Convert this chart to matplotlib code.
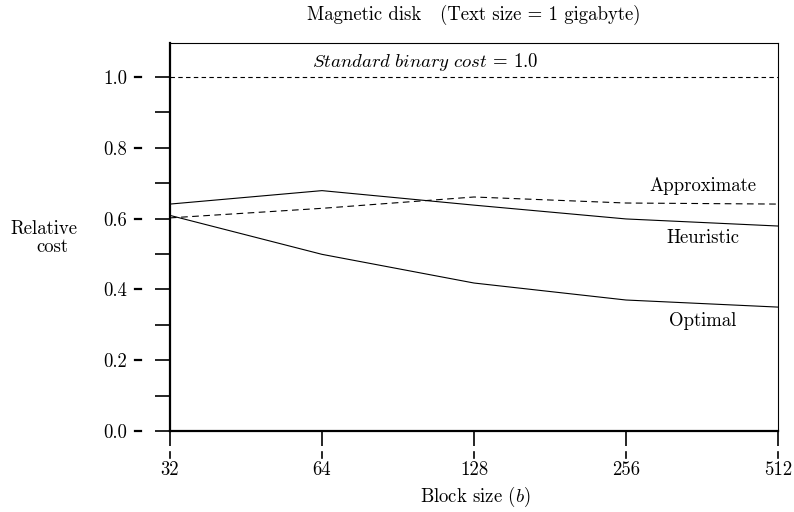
import numpy as np
import matplotlib
matplotlib.use("Agg")
import matplotlib.pyplot as plt
from matplotlib.ticker import FixedLocator, FixedFormatter, NullFormatter

plt.rcParams['font.family'] = ['cmr10', 'DejaVu Serif']
plt.rcParams['mathtext.fontset'] = 'cm'
plt.rcParams['axes.formatter.use_mathtext'] = True

# data
block_sizes = [32, 64, 128, 256, 512]
heuristic = [0.641, 0.679, 0.638, 0.599, 0.579]
approximate = [0.602, 0.629, 0.661, 0.644, 0.641]
optimal = [0.609, 0.499, 0.418, 0.370, 0.350]
standard_cost = 1.0

y_major = [0.0, 0.2, 0.4, 0.6, 0.8, 1.0]
y_minor = [0.1, 0.3, 0.5, 0.7, 0.9]
x_labels = ['32', '64', '128', '256', '512']

fs = 13.5

fig = plt.figure(figsize=(7.94, 5.12), dpi=100)
ax = fig.add_axes([170 / 794, 81 / 512, 608 / 794, 388 / 512])

ax.plot(block_sizes, heuristic, color='black', lw=0.8)
ax.plot(block_sizes, approximate, color='black', lw=0.8, dashes=(6, 4))
ax.plot(block_sizes, optimal, color='black', lw=0.8)
ax.axhline(standard_cost, color='black', lw=0.8, dashes=(4, 3))

ax.set_xscale('log', base=2)
ax.set_xlim(32, 512)
ax.set_ylim(0, 1.096)

ax.xaxis.set_major_locator(FixedLocator(block_sizes))
ax.xaxis.set_major_formatter(FixedFormatter(x_labels))
ax.xaxis.set_minor_locator(FixedLocator([]))
ax.xaxis.set_minor_formatter(NullFormatter())
ax.yaxis.set_major_locator(FixedLocator(y_major))
ax.yaxis.set_major_formatter(FixedFormatter([f"{v:.1f}" for v in y_major]))
ax.yaxis.set_minor_locator(FixedLocator(y_minor))

ax.tick_params(axis='y', which='both', direction='out', length=11, width=1.2,
               pad=20, labelsize=fs)
ax.tick_params(axis='x', which='major', direction='out', length=11, width=1.2,
               pad=11, labelsize=fs)

for side in ['left', 'bottom']:
    ax.spines[side].set_linewidth(1.6)
for side in ['top', 'right']:
    ax.spines[side].set_linewidth(0.8)

# little dashes between the ticks and their labels
xt = ax.get_xaxis_transform()
for b in block_sizes:
    ax.plot([b, b], [-21 / 388, -27 / 388], transform=xt, color='black',
            lw=1.2, clip_on=False)
yt = ax.get_yaxis_transform()
for v in y_major:
    ax.plot([-35 / 608, -29 / 608], [v, v], transform=yt, color='black',
            lw=1.6, clip_on=False)

ax.text(61.2, 1.042, r'$Standard\ binary\ cost$ = 1.0', fontsize=fs,
        ha='left', va='center')
ax.text(364, 0.692, 'Approximate', fontsize=fs, ha='center', va='center')
ax.text(364, 0.545, 'Heuristic', fontsize=fs, ha='center', va='center')
ax.text(364, 0.311, 'Optimal', fontsize=fs, ha='center', va='center')

fig.text(474 / 794, 1 - 15 / 512, 'Magnetic disk   (Text size = 1 gigabyte)',
         fontsize=fs, ha='center', va='center')
fig.text(10 / 794, 1 - 229 / 512, 'Relative', fontsize=fs, ha='left', va='center')
fig.text(36 / 794, 1 - 247 / 512, 'cost', fontsize=fs, ha='left', va='center')
fig.text(475 / 794, 1 - 497 / 512, r'Block size ($b$)', fontsize=fs,
         ha='center', va='center')

fig.savefig('out.png', dpi=100)
